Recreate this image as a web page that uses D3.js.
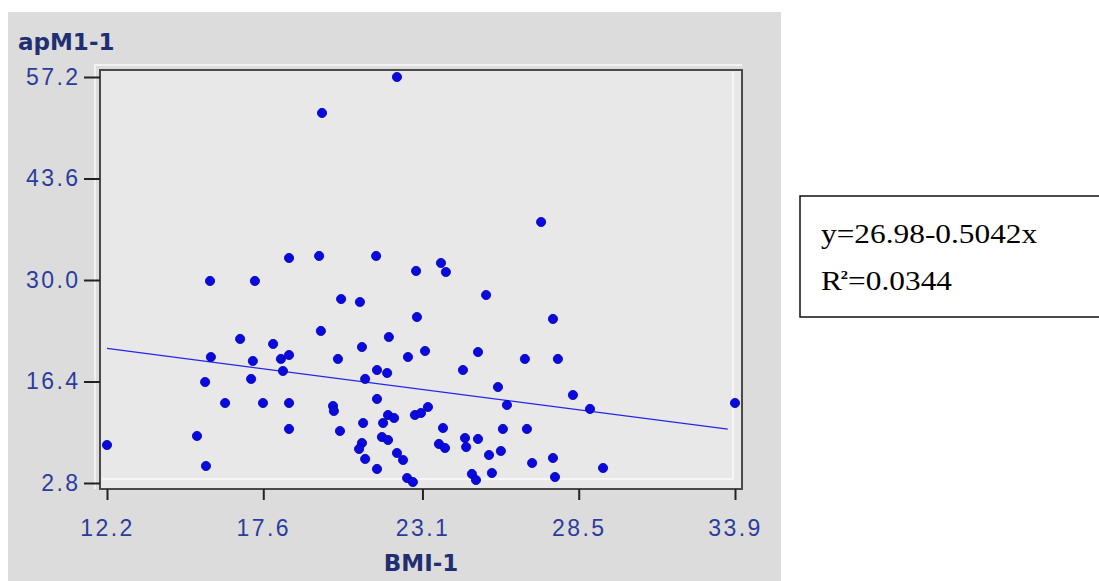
<!DOCTYPE html>
<html>
<head>
<meta charset="utf-8">
<script src="https://cdnjs.cloudflare.com/ajax/libs/d3/7.8.5/d3.min.js"></script>
<style>
    body { margin: 0; background: #ffffff; }
    svg { display: block; }
</style>
</head>
<body>
<div id="chart"></div>
<script>
"use strict"
// BMI-1 (x) against apM1-1 (y)
var bmi = [22.22, 19.63, 27.20, 18.49, 19.53, 21.50, 22.88, 23.74, 23.91, 15.76,
    17.31, 25.30, 20.29, 20.94, 22.91, 27.61, 19.59, 21.94, 16.80, 17.94,
    21.01, 23.19, 25.02, 15.79, 17.24, 18.21, 18.49, 20.18, 22.60, 26.64,
    27.78, 18.28, 21.53, 21.88, 24.50, 21.12, 15.59, 17.18, 25.71, 28.30,
    21.53, 16.28, 17.59, 18.49, 26.02, 23.29, 28.89, 33.90, 20.01, 20.04,
    21.91, 22.12, 22.84, 23.05, 21.74, 21.05, 23.81, 25.88, 26.71, 18.49,
    20.25, 15.31, 21.70, 21.91, 21.01, 20.91, 23.67, 23.88, 24.57, 25.02,
    24.61, 12.20, 22.22, 22.43, 21.12, 21.53, 25.40, 25.81, 26.89, 27.61,
    15.62, 22.57, 22.77, 24.81, 24.95, 25.50, 27.68, 29.34]
var apm = [57.20, 52.38, 37.77, 32.95, 33.22, 33.22, 31.21, 32.28, 31.07, 29.87,
    29.87, 27.99, 27.45, 27.05, 25.04, 24.78, 23.17, 22.36, 22.10, 21.43,
    21.02, 20.49, 20.35, 19.68, 19.15, 19.42, 19.95, 19.42, 19.68, 19.42,
    19.42, 17.81, 17.94, 17.54, 17.94, 16.74, 16.33, 16.74, 15.66, 14.59,
    14.06, 13.52, 13.52, 13.52, 13.25, 12.98, 12.72, 13.52, 13.12, 12.45,
    11.91, 11.51, 11.91, 12.18, 10.84, 10.84, 10.17, 10.04, 10.04, 10.04,
    9.77, 9.10, 8.96, 8.56, 8.16, 7.36, 8.03, 7.49, 8.83, 8.70,
    7.62, 7.89, 6.82, 5.88, 6.02, 4.68, 6.55, 7.09, 5.48, 6.15,
    5.08, 3.47, 2.93, 4.01, 3.20, 4.14, 3.60, 4.81]

var xTicks = [12.2, 17.6, 23.1, 28.5, 33.9]
var yTicks = [2.8, 16.4, 30.0, 43.6, 57.2]
var fitX = [12.2, 33.65]             // extent of the fitted line
var intercept = 26.98
var slope = -0.5042
var eqLine = "y=26.98-0.5042x"
var r2Text = "=0.0344"

var width = 1099
var height = 581
var plot = { left: 100, top: 70, right: 742, bottom: 489 }

var xScale = d3.scaleLinear().domain([12.2, 33.9]).range([107, 735])
var yScale = d3.scaleLinear().domain([2.8, 57.2]).range([483, 77])

var svg = d3.select("#chart").append("svg")
    .attr("width", width)
    .attr("height", height)

// gray panel behind the chart
svg.append("rect")
    .attr("x", 8).attr("y", 12)
    .attr("width", 773).attr("height", height - 12)
    .attr("fill", "#dcdcdc")

// plot area with a bevelled frame
svg.append("path")
    .attr("d", "M" + (plot.left - 5) + "," + plot.bottom + "V" + (plot.top - 5) + "H" + plot.right)
    .attr("fill", "none").attr("stroke", "#f2f2f2").attr("stroke-width", 2)
svg.append("rect")
    .attr("x", plot.left).attr("y", plot.top)
    .attr("width", plot.right - plot.left).attr("height", plot.bottom - plot.top)
    .attr("fill", "#e8e8e8")
svg.append("path")
    .attr("d", "M" + (plot.left + 2) + "," + (plot.bottom - 10) + "H" + (plot.right - 9) + "V" + (plot.top + 2))
    .attr("fill", "none").attr("stroke", "#f6f6f6").attr("stroke-width", 2)
svg.append("rect")
    .attr("x", plot.left).attr("y", plot.top)
    .attr("width", plot.right - plot.left).attr("height", plot.bottom - plot.top)
    .attr("fill", "none").attr("stroke", "#4a4a4a").attr("stroke-width", 2)

// axes
var yAxis = d3.axisLeft(yScale).tickValues(yTicks).tickFormat(d3.format(".1f"))
    .tickSize(16).tickPadding(6)
var xAxis = d3.axisBottom(xScale).tickValues(xTicks).tickFormat(d3.format(".1f"))
    .tickSize(11).tickPadding(20)

var gy = svg.append("g").attr("transform", "translate(" + plot.left + ",0)").call(yAxis)
var gx = svg.append("g").attr("transform", "translate(0," + plot.bottom + ")").call(xAxis)

;[gx, gy].forEach(function (g) {
    g.select(".domain").remove()
    g.selectAll(".tick line").attr("stroke", "#222").attr("stroke-width", 2)
    g.selectAll(".tick text")
        .attr("fill", "#2a3c9c")
        .style("font-family", "'Liberation Sans', Arial, sans-serif")
        .style("font-size", "23px")
        .style("letter-spacing", "2.4px")
})
gy.selectAll(".tick text").attr("dx", "2.4px")

// regression line
var line = d3.line()
    .x(function (d) { return xScale(d) })
    .y(function (d) { return yScale(intercept + slope * d) })
svg.append("path")
    .datum(fitX)
    .attr("d", line)
    .attr("fill", "none")
    .attr("stroke", "#2626e6")
    .attr("stroke-width", 1.3)

// points
svg.append("g").selectAll("circle")
    .data(d3.range(bmi.length))
    .enter().append("circle")
    .attr("cx", function (i) { return xScale(bmi[i]) })
    .attr("cy", function (i) { return yScale(apm[i]) })
    .attr("r", 4.6)
    .attr("fill", "#0a0ae0")
    .attr("stroke", "#0000a8")
    .attr("stroke-width", 0.8)

// axis titles
svg.append("text")
    .attr("x", 18).attr("y", 50)
    .attr("fill", "#1f2f72")
    .style("font-family", "'DejaVu Sans', Verdana, sans-serif")
    .style("font-weight", "bold")
    .style("font-size", "23px")
    .text("apM1-1")

svg.append("text")
    .attr("x", (plot.left + plot.right) / 2).attr("y", 571)
    .attr("text-anchor", "middle")
    .attr("fill", "#1f2f72")
    .style("font-family", "'DejaVu Sans', Verdana, sans-serif")
    .style("font-weight", "bold")
    .style("font-size", "23px")
    .text("BMI-1")

// equation box, runs off the right edge
svg.append("rect")
    .attr("x", 800).attr("y", 196)
    .attr("width", 320).attr("height", 121)
    .attr("fill", "#ffffff")
    .attr("stroke", "#111").attr("stroke-width", 1.5)

// Times glyphs, a little wider than normal
var eq = svg.append("g")
    .attr("transform", "translate(821,0) scale(1.12,1)")
    .style("font-family", "'Liberation Serif', 'Times New Roman', serif")
    .style("font-size", "28px")
    .attr("fill", "#000")

eq.append("text")
    .attr("x", 0).attr("y", 243)
    .text(eqLine)

var r2 = eq.append("text").attr("x", 0).attr("y", 290)
r2.append("tspan").text("R")
r2.append("tspan").attr("dy", -11).attr("dx", -1).style("font-size", "13px").style("font-weight", "bold").text("2")
r2.append("tspan").attr("dy", 11).text(r2Text)
</script>
</body>
</html>
